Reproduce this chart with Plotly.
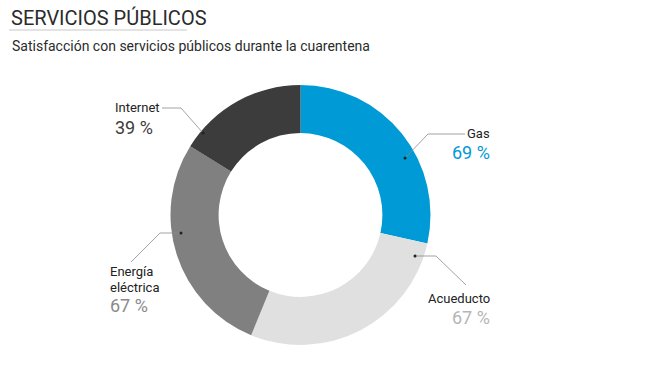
import plotly.graph_objects as go

categories = ["Gas", "Acueducto", "Energía eléctrica", "Internet"]
values = [69, 67, 67, 39]
colors = ["#009ad6", "#e0e0e0", "#808080", "#3c3c3c"]
label_colors = ["#0099d6", "#b5b5b5", "#8a8a8a", "#3c3c3c"]
title = "SERVICIOS PÚBLICOS"
subtitle = "Satisfacción con servicios públicos durante la cuarentena"

W, H = 648, 375
def px(x): return x / W
def py(y): return 1 - y / H

FONT = "Roboto, Arial, sans-serif"

fig = go.Figure(go.Pie(
    labels=categories, values=values, sort=False, direction="clockwise",
    rotation=0, hole=0.63, textinfo="none", hoverinfo="label+value",
    marker=dict(colors=colors, line=dict(width=0)),
    domain=dict(x=[px(170), px(431)], y=[py(345), py(85)]),
    showlegend=False,
))

shapes = []
annotations = []

# title and subtitle
annotations.append(dict(x=px(9), y=py(18), xref="paper", yref="paper", text=title,
                        showarrow=False, xanchor="left", yanchor="middle",
                        font=dict(family=FONT, size=20, color="#2b2b2b")))
shapes.append(dict(type="line", xref="paper", yref="paper", x0=px(9), x1=px(187),
                   y0=py(30), y1=py(30), line=dict(color="#c8c8c8", width=1)))
annotations.append(dict(x=px(10), y=py(46), xref="paper", yref="paper", text=subtitle,
                        showarrow=False, xanchor="left", yanchor="middle",
                        font=dict(family=FONT, size=14, color="#2b2b2b")))

# leader lines: (dot, elbow, end)
leaders = [
    [(405, 158), (428, 134), (465, 134)],   # Gas
    [(415, 256), (436, 256), (466, 285)],   # Acueducto
    [(181, 233), (160, 233), (131, 262)],   # Energía
    [(203, 133), (181, 108), (162, 108)],   # Internet
]
for pts in leaders:
    path = "M {} {}".format(px(pts[0][0]), py(pts[0][1]))
    for (x, y) in pts[1:]:
        path += " L {} {}".format(px(x), py(y))
    shapes.append(dict(type="path", xref="paper", yref="paper", path=path,
                       line=dict(color="#8a8a8a", width=0.8)))
    dx, dy = pts[0]
    shapes.append(dict(type="circle", xref="paper", yref="paper",
                       x0=px(dx - 1.5), x1=px(dx + 1.5), y0=py(dy + 1.5), y1=py(dy - 1.5),
                       fillcolor="#222", line=dict(width=0)))

# labels: (name lines, x, anchor, y name, y value)
label_pos = [
    (["Gas"], 492, "right", [134], 152),
    (["Acueducto"], 492, "right", [298], 317),
    (["Energía", "eléctrica"], 108, "left", [271, 287], 305),
    (["Internet"], 113, "left", [107], 128),
]
for i, (lines, x, anc, ys, yv) in enumerate(label_pos):
    for line, y in zip(lines, ys):
        annotations.append(dict(x=px(x), y=py(y), xref="paper", yref="paper", text=line,
                                showarrow=False, xanchor=anc, yanchor="middle",
                                font=dict(family=FONT, size=13, color="#222")))
    annotations.append(dict(x=px(x), y=py(yv), xref="paper", yref="paper",
                            text="{} %".format(values[i]),
                            showarrow=False, xanchor=anc, yanchor="middle",
                            font=dict(family=FONT, size=18, color=label_colors[i])))

fig.update_layout(width=W, height=H, margin=dict(l=0, r=0, t=0, b=0),
                  paper_bgcolor="white", plot_bgcolor="white",
                  shapes=shapes, annotations=annotations)
fig.write_html("out.html", config={"displayModeBar": False},
               post_script="document.body.style.margin='0';document.body.style.overflow='hidden';")
